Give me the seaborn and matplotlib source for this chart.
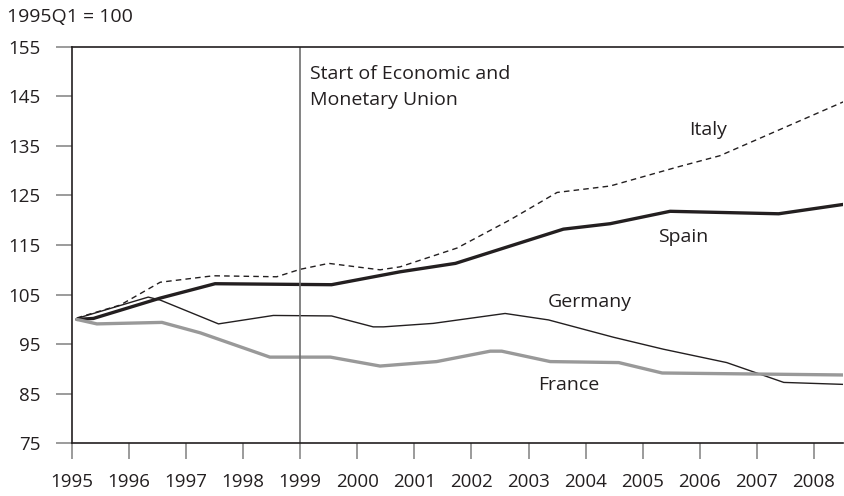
import pandas as pd
import matplotlib.pyplot as plt
import seaborn as sns

# data (year as decimal, index 1995Q1 = 100)
italy_x = [1995.09, 1995.85, 1996.55, 1997.48, 1998.59, 1999.00, 1999.50, 2000.40, 2000.75,
           2001.75, 2002.68, 2003.50, 2004.43, 2005.60, 2006.35, 2008.52]
italy_y = [100.3, 102.9, 107.5, 108.8, 108.6, 110.1, 111.3, 110.0, 110.6,
           114.4, 120.1, 125.6, 126.9, 130.7, 133.0, 143.9]

spain_x = [1995.09, 1995.38, 1996.55, 1997.51, 1999.55, 2000.75, 2001.72, 2003.61, 2004.43,
           2005.48, 2007.38, 2008.52]
spain_y = [100.0, 100.2, 104.3, 107.2, 107.0, 109.6, 111.3, 118.2, 119.3,
           121.8, 121.3, 123.2]

germany_x = [1995.09, 1996.34, 1996.55, 1997.57, 1998.53, 1999.55, 2000.28, 2000.46, 2001.33,
             2002.59, 2003.35, 2004.49, 2005.36, 2006.47, 2007.47, 2008.52]
germany_y = [100.2, 104.5, 103.9, 99.1, 100.8, 100.7, 98.5, 98.5, 99.2,
             101.2, 99.9, 96.4, 94.0, 91.3, 87.3, 86.9]

france_x = [1995.09, 1995.44, 1996.58, 1997.25, 1998.47, 1999.53, 2000.40, 2001.39, 2002.33,
            2002.53, 2003.38, 2004.58, 2005.34, 2008.52]
france_y = [100.0, 99.1, 99.4, 97.3, 92.4, 92.4, 90.6, 91.5, 93.6,
            93.6, 91.5, 91.3, 89.2, 88.8]

years = list(range(1995, 2009))
yticks = [75, 85, 95, 105, 115, 125, 135, 145, 155]

ink = '#231f20'
tick_grey = '#8a8a8a'

sns.set_style('ticks')
plt.rcParams['font.family'] = ['Open Sans', 'DejaVu Sans']

fig = plt.figure(figsize=(8.44, 4.96), dpi=100)
ax = fig.add_axes([0.085, 0.106, 0.914, 0.8])

series = [
    ('Italy', italy_x, italy_y, ink, 1.0, (0, (4, 3))),
    ('Spain', spain_x, spain_y, ink, 2.4, '-'),
    ('Germany', germany_x, germany_y, ink, 1.0, '-'),
    ('France', france_x, france_y, '#999999', 2.4, '-'),
]
for name, xs, ys, col, lw, ls in series:
    df = pd.DataFrame({'year': xs, 'index': ys})
    sns.lineplot(data=df, x='year', y='index', ax=ax, color=col,
                 linewidth=lw, linestyle=ls, sort=False, estimator=None)

ax.axvline(1999, color='#6e6e6e', lw=1.2)

ax.set_xlim(1995, 2008.51)
ax.set_ylim(75, 155)
ax.set_xticks(years)
ax.set_yticks(yticks)
ax.set_xlabel('')
ax.set_ylabel('')

for side in ['left', 'bottom', 'top']:
    ax.spines[side].set_color(ink)
    ax.spines[side].set_linewidth(1.2)
ax.spines['right'].set_visible(False)

ax.tick_params(axis='x', direction='out', length=11.5, width=1.2, color=tick_grey,
               pad=10, labelsize=13.5, labelcolor=ink)
ax.tick_params(axis='y', direction='out', length=11.5, width=1.2, color=tick_grey,
               pad=11, labelsize=13.5, labelcolor=ink)

txt = dict(fontsize=14, color=ink)
ax.text(2006.15, 138.2, 'Italy', ha='center', va='center', **txt)
ax.text(2005.71, 116.6, 'Spain', ha='center', va='center', **txt)
ax.text(2004.08, 103.5, 'Germany', ha='center', va='center', **txt)
ax.text(2003.7, 86.8, 'France', ha='center', va='center', **txt)
ax.text(1999.18, 146.8, 'Start of Economic and\nMonetary Union', ha='left', va='center',
        linespacing=1.6, **txt)

fig.text(0.008, 0.966, '1995Q1 = 100', ha='left', va='center', **txt)

fig.savefig('out.png', dpi=100)
